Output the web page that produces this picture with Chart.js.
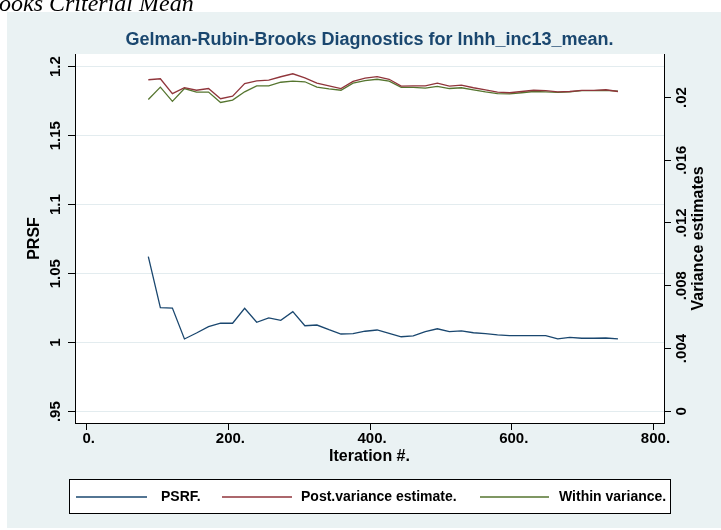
<!DOCTYPE html>
<html>
<head>
<meta charset="utf-8">
<title>Gelman-Rubin-Brooks Diagnostics</title>
<script src="https://cdn.jsdelivr.net/npm/chart.js@4.4.1/dist/chart.umd.min.js"></script>
<style>
    html, body { margin: 0; padding: 0; background: #fff; }
    #wrap { width: 721px; height: 530px; }
</style>
</head>
<body>
<div id="wrap"><canvas id="grubinChart" width="721" height="530"></canvas></div>
<script>
// Values (one point every 17 draws)
const iterations = [87, 104, 121, 138, 155, 172, 189, 206, 223, 240,
    257, 274, 291, 308, 325, 342, 359, 376, 393, 410,
    427, 444, 461, 478, 495, 512, 529, 546, 563, 580,
    597, 614, 631, 648, 665, 682, 699, 716, 733, 750];
const psrf = [1.0623, 1.0254, 1.0251, 1.0027, 1.0070, 1.0116, 1.0141, 1.0141, 1.0249, 1.0148,
    1.0179, 1.0162, 1.0225, 1.0123, 1.0128, 1.0094, 1.0063, 1.0065, 1.0083, 1.0092,
    1.0068, 1.0043, 1.0049, 1.0080, 1.0101, 1.0080, 1.0085, 1.0072, 1.0065, 1.0056,
    1.0051, 1.0051, 1.0051, 1.0051, 1.0027, 1.0039, 1.0032, 1.0032, 1.0034, 1.0027];
const postVariance = [0.02113, 0.02119, 0.02024, 0.02062, 0.02046, 0.02057, 0.01992, 0.02008, 0.02089, 0.02106,
    0.02110, 0.02132, 0.02151, 0.02125, 0.02091, 0.02074, 0.02057, 0.02102, 0.02123, 0.02133,
    0.02116, 0.02072, 0.02074, 0.02074, 0.02091, 0.02072, 0.02078, 0.02062, 0.02049, 0.02034,
    0.02030, 0.02038, 0.02046, 0.02043, 0.02036, 0.02038, 0.02045, 0.02045, 0.02049, 0.02038];
const withinVariance = [0.01987, 0.02066, 0.01975, 0.02057, 0.02034, 0.02034, 0.01968, 0.01983, 0.02036, 0.02074,
    0.02074, 0.02097, 0.02104, 0.02100, 0.02066, 0.02055, 0.02046, 0.02091, 0.02108, 0.02116,
    0.02104, 0.02064, 0.02064, 0.02059, 0.02070, 0.02057, 0.02062, 0.02049, 0.02036, 0.02025,
    0.02023, 0.02030, 0.02038, 0.02036, 0.02032, 0.02036, 0.02043, 0.02043, 0.02045, 0.02040];

const xTicks = [0, 200, 400, 600, 800];
const xTickLabels = ['0.', '200.', '400.', '600.', '800.'];
const psrfTicks = [0.95, 1, 1.05, 1.1, 1.15, 1.2];
const psrfTickLabels = ['.95', '1', '1.05', '1.1', '1.15', '1.2'];
const varTicks = [0, 0.004, 0.008, 0.012, 0.016, 0.02];
const varTickLabels = ['0', '.004', '.008', '.012', '.016', '.02'];
const seriesLabels = ['PSRF.', 'Post.variance estimate.', 'Within variance.'];

const FONT = "'Liberation Sans', Arial, sans-serif";
const NAVY = '#1a476f';
const PANEL = '#eaf2f3';

const toPoints = (ys) => ys.map((y, i) => ({ x: iterations[i], y: y }));

// Stata-like frame: page header, light panel, white plot region, rotated labels, boxed legend
const stataFrame = {
    id: 'stataFrame',
    beforeDraw(chart) {
        const { ctx, chartArea: a } = chart;
        ctx.save();
        ctx.fillStyle = '#fff';
        ctx.fillRect(0, 0, chart.width, chart.height);
        ctx.fillStyle = PANEL;
        ctx.fillRect(7, 12, chart.width - 7, chart.height - 14);
        // leftover of the document heading above the figure
        ctx.fillStyle = '#000';
        ctx.font = "italic 24px 'Liberation Serif', 'Times New Roman', serif";
        ctx.textBaseline = 'alphabetic';
        ctx.fillText('ooks Criterial Mean', -1, 11);
        ctx.fillStyle = '#fff';
        ctx.fillRect(a.left, a.top, a.right - a.left, a.bottom - a.top);
        ctx.restore();
    },
    afterDraw(chart) {
        const { ctx, chartArea: a, scales } = chart;
        const midX = (a.left + a.right) / 2;
        const midY = (a.top + a.bottom) / 2;
        ctx.save();
        ctx.fillStyle = '#000';
        ctx.textBaseline = 'middle';

        // tick labels, rotated like Stata's vertical axis labels
        ctx.font = 'bold 15px ' + FONT;
        ctx.textAlign = 'center';
        const rotated = (text, x, y) => {
            ctx.save();
            ctx.translate(x, y);
            ctx.rotate(-Math.PI / 2);
            ctx.fillText(text, 0, 0);
            ctx.restore();
        };
        psrfTicks.forEach((v, i) => rotated(psrfTickLabels[i], 56, scales.y.getPixelForValue(v)));
        varTicks.forEach((v, i) => rotated(varTickLabels[i], 682, scales.y1.getPixelForValue(v)));
        ctx.textAlign = 'left';
        xTicks.forEach((v, i) => {
            const label = xTickLabels[i];
            const w = ctx.measureText(label.replace(/\.$/, '')).width;
            ctx.fillText(label, scales.x.getPixelForValue(v) - w / 2, 439);
        });

        // axis titles
        ctx.font = 'bold 16px ' + FONT;
        ctx.textAlign = 'center';
        rotated('PRSF', 35, midY);
        rotated('Variance estimates', 699, midY);
        ctx.fillText('Iteration #.', midX, 457);

        // chart title
        ctx.fillStyle = NAVY;
        ctx.font = 'bold 18px ' + FONT;
        ctx.fillText('Gelman-Rubin-Brooks Diagnostics for lnhh_inc13_mean.', midX, 40);

        // legend box
        ctx.fillStyle = '#fff';
        ctx.fillRect(69.5, 479.5, 601, 34);
        ctx.strokeStyle = '#000';
        ctx.lineWidth = 1;
        ctx.strokeRect(69.5, 479.5, 601, 34);
        const keys = [[76, 147, 161], [222, 292, 301], [480, 549, 559]];
        ctx.font = 'bold 14px ' + FONT;
        ctx.textAlign = 'left';
        chart.data.datasets.forEach((ds, i) => {
            const [x0, x1, tx] = keys[i];
            ctx.strokeStyle = ds.borderColor;
            ctx.lineWidth = 1.3;
            ctx.beginPath();
            ctx.moveTo(x0, 497);
            ctx.lineTo(x1, 497);
            ctx.stroke();
            ctx.fillStyle = '#000';
            ctx.fillText(ds.label, tx, 497);
        });
        ctx.restore();
    }
};

const ctxGrubin = document.getElementById('grubinChart').getContext('2d');
new Chart(ctxGrubin, {
    type: 'line',
    data: {
        datasets: [
            { label: seriesLabels[0], data: toPoints(psrf), borderColor: NAVY, yAxisID: 'y' },
            { label: seriesLabels[1], data: toPoints(postVariance), borderColor: '#90353b', yAxisID: 'y1' },
            { label: seriesLabels[2], data: toPoints(withinVariance), borderColor: '#55752f', yAxisID: 'y1' }
        ]
    },
    options: {
        responsive: false,
        animation: false,
        devicePixelRatio: 1,
        layout: { padding: { top: 54, left: 0, right: 0, bottom: 0 } },
        elements: {
            line: { borderWidth: 1.3, tension: 0, fill: false },
            point: { radius: 0 }
        },
        plugins: {
            legend: { display: false },
            title: { display: false },
            tooltip: { enabled: false }
        },
        scales: {
            x: {
                type: 'linear',
                min: -16.5,
                max: 815,
                afterBuildTicks: (s) => { s.ticks = xTicks.map(v => ({ value: v })); },
                afterFit: (s) => { s.height = 107; },
                ticks: { display: false },
                grid: { drawOnChartArea: false, tickLength: 7, tickColor: '#000' },
                border: { color: '#000', width: 1 }
            },
            y: {
                position: 'left',
                min: 0.9418,
                max: 1.2092,
                afterBuildTicks: (s) => { s.ticks = psrfTicks.map(v => ({ value: v })); },
                afterFit: (s) => { s.width = 75; },
                ticks: { display: false },
                grid: { color: '#e3ecef', tickColor: '#000', tickLength: 7 },
                border: { color: '#000', width: 1 }
            },
            y1: {
                position: 'right',
                min: -0.000746,
                max: 0.02277,
                afterBuildTicks: (s) => { s.ticks = varTicks.map(v => ({ value: v })); },
                afterFit: (s) => { s.width = 57; },
                ticks: { display: false },
                grid: { drawOnChartArea: false, tickColor: '#000', tickLength: 7 },
                border: { color: '#000', width: 1 }
            }
        }
    },
    plugins: [stataFrame]
});
</script>
</body>
</html>
